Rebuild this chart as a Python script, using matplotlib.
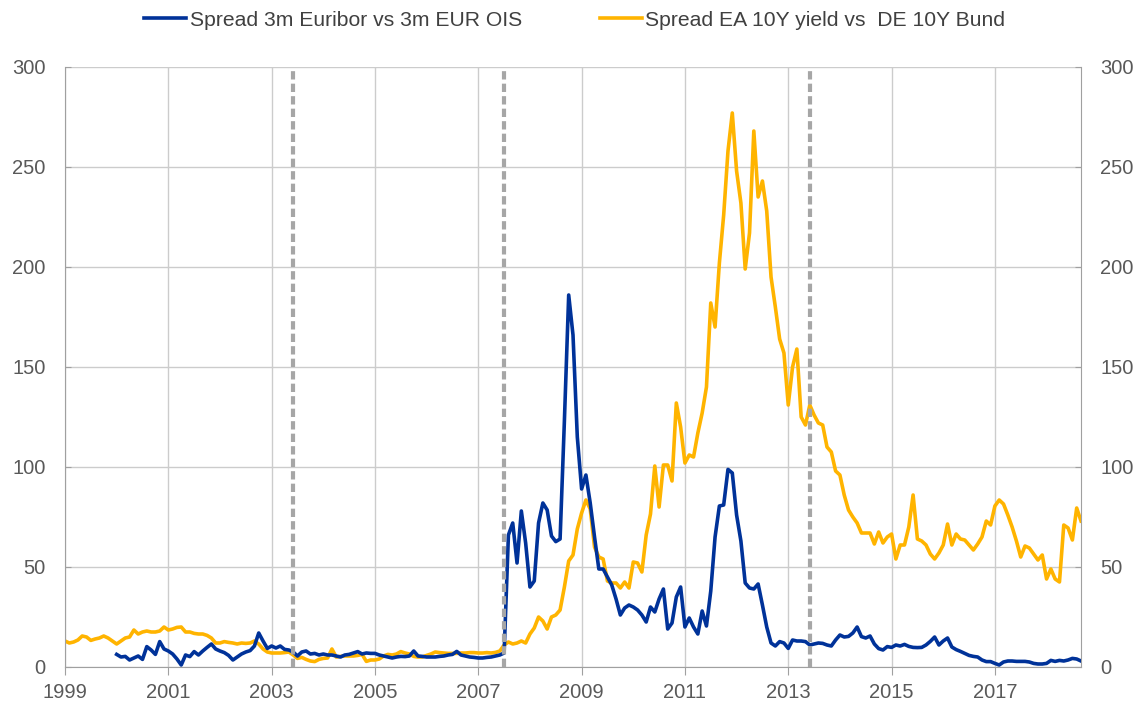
import numpy as np
import matplotlib
matplotlib.use("Agg")
import matplotlib.pyplot as plt

plt.rcParams['font.family'] = ['Liberation Sans', 'DejaVu Sans']

# monthly spreads in basis points, Jan 1999 .. Sep 2018
start_year = 1999
bund_spread = [
    13, 12, 12.5, 13.5, 15.5, 15, 13.3, 14, 14.5, 15.5, 14.5, 13,
    11.5, 13, 14.5, 15, 18.5, 16.5, 17.5, 18, 17.5, 17.5, 18, 20,
    18.5, 19, 19.8, 20, 17.5, 17.5, 16.8, 16.5, 16.5, 15.8, 14.5, 12,
    12, 12.7, 12.3, 12, 11.5, 12, 11.8, 12, 13, 11.5, 9, 7.5,
    7, 7, 7, 7.2, 7.5, 6, 4.3, 4.8, 3.8, 3, 2.7, 3.8,
    4.3, 4.5, 9, 5, 5.3, 5.5, 5.5, 5.5, 5.8, 6.3, 2.8, 3.5,
    3.5, 4, 5.5, 6.3, 6, 6.5, 7.7, 7, 6.5, 5.3, 5, 5,
    5.8, 6.5, 7.5, 7.2, 7, 6.8, 6.8, 6.8, 7, 7, 7.2, 7.2,
    7, 7, 7.2, 7, 7.3, 8, 11, 12.5, 11.5, 12, 13, 12,
    16.5, 19.5, 25, 23, 19, 25, 26, 28.5, 40, 53, 56, 69,
    77, 83.5, 79, 60, 55, 54, 43, 42, 42, 39.5, 42.5, 39.5,
    52.5, 52, 47.5, 66, 76.5, 100.5, 80, 101, 101, 93, 132, 120,
    102, 106, 105, 117, 127, 140, 182, 170, 202, 226, 258, 277,
    248, 232, 199, 217, 268, 235, 243, 228, 195, 180, 164, 157,
    131, 150, 159, 125, 121, 131, 126, 122, 121, 110, 107.5, 98,
    96, 86, 78.5, 75, 72, 67, 67, 67, 61.5, 67.5, 62, 65,
    66.5, 54, 61, 61, 70, 86, 64, 63, 61, 56.5, 54, 57,
    61, 71.5, 61, 66.5, 64, 63.5, 61, 58.5, 61.5, 65, 73, 71,
    80.5, 83.5, 81.5, 76, 70, 63, 55, 60.5, 59.5, 56.5, 53.5, 56,
    44, 49, 44, 42.5, 71, 69.5, 63.5, 79.5, 73,
]

# Euribor-OIS starts Jan 2000
euribor_start = 2000
euribor_spread = [
    6.3, 5, 5.3, 3.5, 4.5, 5.5, 3.8, 10.2, 8.5, 6.3, 12.7, 9,
    8, 6.5, 4, 1, 6, 5.2, 7.7, 6, 8, 9.8, 11.5, 9,
    8, 7.2, 5.8, 3.5, 5, 6.5, 7.5, 8.2, 10.5, 17, 13, 9.3,
    10.5, 9.5, 10.5, 8.8, 8.5, 7.5, 5.5, 7.5, 8, 6.5, 6.8, 6,
    6.5, 6, 6, 5.5, 5, 6, 6.3, 7, 7.7, 6.5, 7, 6.8,
    6.8, 6, 5.5, 5, 4.5, 5, 5.3, 5.2, 5.5, 8, 5.5, 5.3,
    5, 5, 5, 5.3, 5.5, 6, 6.3, 7.8, 6, 5.5, 5, 4.8,
    4.5, 4.5, 4.8, 5, 5.5, 6, 7, 66, 72, 52, 78, 62,
    40, 43, 72, 82, 78.5, 65.5, 62.7, 64, 123, 186, 166, 115,
    89, 96, 82, 65, 49, 49, 45, 41, 34, 26, 29.5, 31,
    30, 28.5, 26, 22.5, 30, 27.5, 34, 39, 19, 22, 35, 40,
    20, 24.5, 20, 16.5, 28, 20.5, 38, 65, 80.5, 81, 98.8, 97,
    76, 63, 42, 39.5, 39, 41.5, 31, 20, 12, 10.5, 12.7, 12,
    9.3, 13.5, 13, 13, 12.7, 11, 11.5, 12, 11.8, 11, 10.5, 13.5,
    16, 15, 15.3, 17, 20, 15.2, 14.5, 15.5, 11.5, 9.2, 8.5, 10.2,
    9.8, 11, 10.5, 11.3, 10.3, 9.8, 9.7, 9.8, 11, 12.8, 15, 11,
    13, 14.5, 10, 8.7, 7.8, 6.8, 5.8, 5.3, 5, 3.5, 2.7, 2.7,
    1.8, 1, 2.5, 3, 3, 2.8, 2.8, 2.8, 2.5, 1.8, 1.5, 1.5,
    1.8, 3.3, 2.8, 3.3, 3, 3.5, 4.3, 4, 3,
]

# vertical markers (Jun 2003, Jul 2007, Jun 2013)
event_dates = [2003 + 5 / 12, 2007 + 6 / 12, 2013 + 5 / 12]

labels = ['Spread 3m Euribor vs 3m EUR OIS', 'Spread EA 10Y yield vs  DE 10Y Bund']
year_ticks = list(range(1999, 2018, 2))
y_ticks = [0, 50, 100, 150, 200, 250, 300]

x_bund = start_year + np.arange(len(bund_spread)) / 12
x_eur = euribor_start + np.arange(len(euribor_spread)) / 12

blue = '#003299'
yellow = '#FFB400'
grey_txt = '#595959'

fig = plt.figure(figsize=(11.36, 7.03), dpi=100)
ax = fig.add_axes([65 / 1136, 36 / 703, (1081 - 65) / 1136, 600 / 703])

ax.plot(x_eur, euribor_spread, color=blue, lw=2.6, label=labels[0], zorder=3)
ax.plot(x_bund, bund_spread, color=yellow, lw=2.6, label=labels[1], zorder=2)
for d in event_dates:
    ax.axvline(d, color='#a6a6a6', lw=3, dashes=(2, 1), zorder=4)

ax.set_xlim(start_year, x_bund[-1])
ax.set_ylim(0, 300)
ax.set_xticks(year_ticks)
ax.set_yticks(y_ticks)
ax.grid(True, color='#cccccc', lw=1)
ax.set_axisbelow(True)

for side in ['left', 'right', 'bottom']:
    ax.spines[side].set_color('#a0a0a0')
ax.spines['top'].set_visible(False)

ax.tick_params(axis='x', direction='out', length=6, color='#a0a0a0',
               labelsize=14.5, labelcolor=grey_txt, pad=5.5)
ax.tick_params(axis='y', direction='in', length=4, color='#a0a0a0',
               labelsize=14.5, labelcolor=grey_txt, left=True, right=True,
               labelleft=True, labelright=True, pad=14)

fig.legend(loc='upper center', bbox_to_anchor=(0.506, 1.012), ncol=2, frameon=False,
           fontsize=15.2, handlelength=2.0, handletextpad=0.15, columnspacing=3.7,
           labelcolor='#404040')

fig.savefig('out.png', dpi=100)
